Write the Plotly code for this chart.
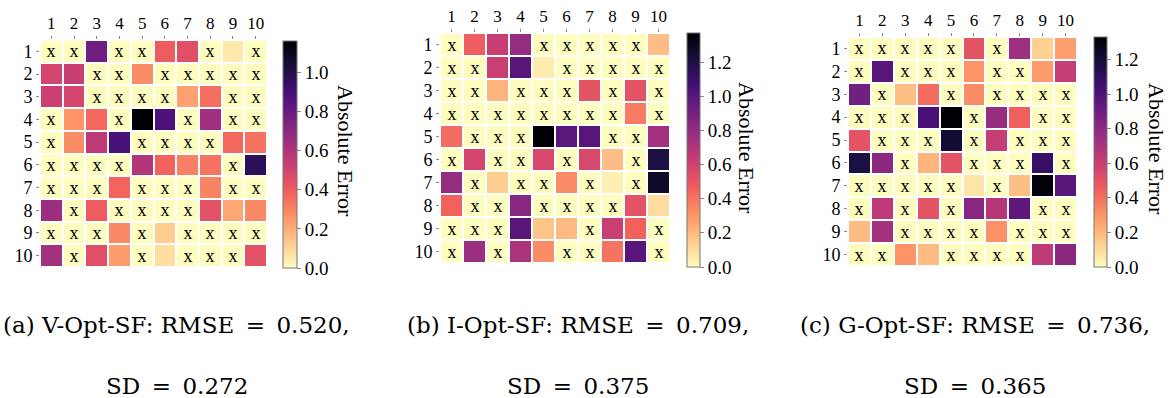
import plotly.graph_objects as go

W, H = 1173, 398

cols = list(range(1, 11))
rows = list(range(1, 11))

# Absolute error matrices (0 = exact, marked with "x")
err_v = [
    [0, 0, 0.78, 0, 0, 0.40, 0.45, 0, 0.05, 0],
    [0.49, 0.53, 0, 0, 0.28, 0, 0, 0, 0, 0],
    [0.52, 0.49, 0, 0, 0, 0, 0.23, 0.35, 0, 0],
    [0, 0.26, 0.37, 0, 1.16, 0.88, 0, 0.64, 0, 0],
    [0, 0.28, 0.56, 0.89, 0, 0, 0, 0, 0.37, 0.34],
    [0, 0, 0, 0, 0.59, 0.38, 0.31, 0.34, 0, 0.97],
    [0, 0, 0, 0.38, 0, 0, 0, 0.30, 0, 0],
    [0.65, 0, 0.40, 0, 0, 0, 0, 0.44, 0.22, 0.29],
    [0, 0, 0, 0.29, 0, 0.12, 0, 0, 0, 0],
    [0.63, 0, 0.45, 0.24, 0, 0.08, 0, 0, 0, 0.44],
]
err_i = [
    [0, 0.47, 0.63, 0.79, 0, 0, 0, 0, 0, 0.19],
    [0, 0, 0.62, 1.00, 0.05, 0, 0, 0, 0, 0],
    [0, 0, 0.22, 0, 0, 0, 0.51, 0, 0.52, 0],
    [0, 0, 0, 0, 0, 0, 0, 0, 0.38, 0],
    [0.42, 0, 0, 0, 1.37, 0.99, 1.00, 0, 0, 0.75],
    [0, 0.58, 0, 0, 0.57, 0, 0.57, 0.19, 0, 1.20],
    [0.79, 0, 0.14, 0, 0, 0.33, 0, 0.04, 0, 1.27],
    [0.45, 0, 0, 0.84, 0, 0, 0, 0, 0.52, 0.10],
    [0, 0, 0, 1.00, 0.17, 0.20, 0, 0.62, 0.45, 0],
    [0, 0.77, 0, 0.72, 0.33, 0, 0, 0.40, 1.00, 0],
]
err_g = [
    [0, 0, 0, 0, 0, 0.50, 0, 0.74, 0.13, 0.27],
    [0, 0.97, 0, 0, 0, 0.30, 0, 0, 0.28, 0.62],
    [0.89, 0, 0.18, 0.41, 0, 0.32, 0, 0, 0, 0],
    [0, 0, 0, 1.02, 1.33, 0, 0.76, 0.45, 0, 0],
    [0.50, 0, 0, 0, 1.21, 0, 0.62, 0, 0, 0],
    [1.17, 0.80, 0, 0.21, 0.50, 0, 0, 0, 1.08, 0],
    [0, 0, 0, 0, 0, 0.07, 0, 0.18, 1.31, 0.97],
    [0, 0.64, 0, 0.50, 0, 0.81, 0.66, 0.95, 0, 0],
    [0.19, 0.72, 0, 0, 0, 0, 0.31, 0, 0, 0],
    [0, 0, 0.30, 0.19, 0, 0, 0, 0, 0.64, 0.80],
]
zmax_list = [1.16, 1.37, 1.33]
cbar_ticks = [[0.0, 0.2, 0.4, 0.6, 0.8, 1.0],
              [0.0, 0.2, 0.4, 0.6, 0.8, 1.0, 1.2],
              [0.0, 0.2, 0.4, 0.6, 0.8, 1.0, 1.2]]
EQ = "\u2002=\u2002"
captions = [
    ("(a) V-Opt-SF: RMSE" + EQ + "0.520,", "SD" + EQ + "0.272"),
    ("(b) I-Opt-SF: RMSE" + EQ + "0.709,", "SD" + EQ + "0.375"),
    ("(c) G-Opt-SF: RMSE" + EQ + "0.736,", "SD" + EQ + "0.365"),
]
cbar_title = "Absolute Error"

# layout geometry in pixels
heat_box = [(40, 267, 40, 267), (440, 670, 33, 263), (848, 1077, 37, 266)]
cbar_box = [(283, 14, 41, 227), (687, 13, 33, 234), (1094, 13, 37, 230)]
cbar_title_pos = [(345, 151), (747, 148), (1157, 149)]
caption_x = [177, 578, 975]

SERIF = "Liberation Serif"
TICK_COL = "#888888"

fig = go.Figure()
for k, z in enumerate([err_v, err_i, err_g]):
    sfx = "" if k == 0 else str(k + 1)
    txt = [["x" if v == 0 else "" for v in r] for r in z]
    cx, th, cy, cl = cbar_box[k]
    fig.add_trace(go.Heatmap(
        z=z, x=cols, y=rows, text=txt, texttemplate="%{text}",
        textfont=dict(family=SERIF, size=18, color="black"),
        colorscale="Magma", reversescale=True, zmin=0, zmax=zmax_list[k],
        xgap=2, ygap=2, xaxis="x" + sfx, yaxis="y" + sfx,
        hoverinfo="skip",
        colorbar=dict(
            x=cx / W, xanchor="left", xpad=0, ypad=0,
            y=1 - cy / H, yanchor="top",
            thickness=th, thicknessmode="pixels",
            len=cl, lenmode="pixels",
            tickvals=cbar_ticks[k], tickformat=".1f",
            ticks="outside", ticklen=4, tickcolor=TICK_COL,
            tickfont=dict(family=SERIF, size=19, color="black"),
            outlinewidth=1, outlinecolor="#777777",
        ),
    ))
    x0, x1, y0, y1 = heat_box[k]
    fig.layout["xaxis" + sfx] = dict(
        domain=[x0 / W, x1 / W], anchor="y" + sfx, side="top",
        range=[0.5, 10.5], tickvals=cols, showgrid=False, zeroline=False,
        showline=False, ticks="outside", ticklen=3, tickcolor=TICK_COL,
        tickfont=dict(family=SERIF, size=17, color="black"), fixedrange=True,
    )
    fig.layout["yaxis" + sfx] = dict(
        domain=[1 - y1 / H, 1 - y0 / H], anchor="x" + sfx,
        range=[10.5, 0.5], tickvals=rows, showgrid=False, zeroline=False,
        showline=False, ticks="outside", ticklen=3, tickcolor=TICK_COL,
        tickfont=dict(family=SERIF, size=18, color="black"), fixedrange=True,
    )
    tx, ty = cbar_title_pos[k]
    fig.add_annotation(x=tx / W, y=1 - ty / H, xref="paper", yref="paper",
                       text=cbar_title, textangle=90, showarrow=False,
                       xanchor="center", yanchor="middle",
                       font=dict(family=SERIF, size=22, color="black"))
    fig.add_annotation(x=caption_x[k] / W, y=1 - 325 / H, xref="paper", yref="paper",
                       text=captions[k][0], showarrow=False,
                       xanchor="center", yanchor="middle",
                       font=dict(family="DejaVu Serif", size=23, color="black"))
    fig.add_annotation(x=caption_x[k] / W, y=1 - 386 / H, xref="paper", yref="paper",
                       text=captions[k][1], showarrow=False,
                       xanchor="center", yanchor="middle",
                       font=dict(family="DejaVu Serif", size=23, color="black"))

fig.update_layout(width=W, height=H, margin=dict(l=0, r=0, t=0, b=0),
                  paper_bgcolor="white", plot_bgcolor="white", showlegend=False)

fig.write_html("out.html", config={"displayModeBar": False},
               post_script="document.body.style.margin='0';")
